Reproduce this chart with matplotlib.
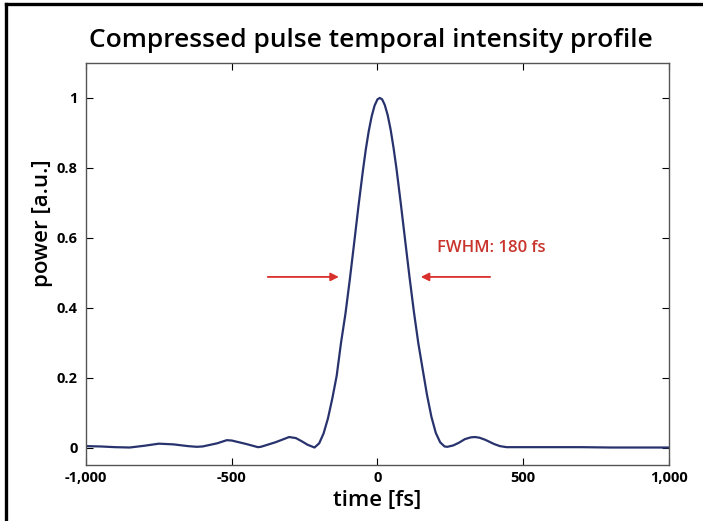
import matplotlib.pyplot as plt
from matplotlib.lines import Line2D

# pulse profile
time_fs = [-1000, -950, -900, -850, -800, -750, -700, -650, -620, -600,
           -550, -517, -500, -450, -410, -400, -350, -303, -280, -260,
           -240, -216, -200, -185, -170, -155, -140, -125, -110, -95,
           -80, -65, -50, -40, -30, -20, -10, 0, 8, 16,
           25, 35, 45, 55, 65, 80, 95, 110, 125, 140,
           155, 170, 185, 200, 215, 230, 240, 260, 280, 300,
           320, 335, 350, 370, 400, 420, 443, 500, 600, 700,
           800, 900, 1000]
power = [0.004, 0.003, 0.001, 0.000, 0.005, 0.011, 0.009, 0.004, 0.002, 0.003,
         0.012, 0.021, 0.020, 0.010, 0.001, 0.002, 0.015, 0.030, 0.027, 0.018,
         0.008, 0.000, 0.012, 0.040, 0.083, 0.140, 0.205, 0.300, 0.382, 0.480,
         0.585, 0.692, 0.792, 0.853, 0.905, 0.947, 0.978, 0.996, 1.000, 0.996,
         0.980, 0.951, 0.910, 0.858, 0.799, 0.698, 0.592, 0.487, 0.388, 0.299,
         0.224, 0.150, 0.088, 0.042, 0.015, 0.003, 0.002, 0.006, 0.014, 0.024,
         0.029, 0.030, 0.028, 0.022, 0.010, 0.004, 0.001, 0.001, 0.001, 0.001,
         0.000, 0.000, 0.000]

x_ticks = [-1000, -500, 0, 500, 1000]
x_ticklabels = ['-1,000', '-500', '0', '500', '1,000']
y_ticks = [0, 0.2, 0.4, 0.6, 0.8, 1]
y_ticklabels = ['0', '0.2', '0.4', '0.6', '0.8', '1']

plt.rcParams['font.family'] = ['Open Sans', 'DejaVu Sans']

fig = plt.figure(figsize=(7.03, 5.21), dpi=100)
ax = fig.add_axes([0.1223, 0.1075, 0.8293, 0.7716])

ax.plot(time_fs, power, color='#28336e', lw=1.6)

# FWHM arrows and label
red = '#d8302c'
ax.annotate('', xy=(-123, 0.488), xytext=(-386, 0.488),
            arrowprops=dict(arrowstyle='-|>', color=red, lw=1.3, mutation_scale=12))
ax.annotate('', xy=(139, 0.488), xytext=(396, 0.488),
            arrowprops=dict(arrowstyle='-|>', color=red, lw=1.3, mutation_scale=12))
ax.text(204, 0.571, 'FWHM: 180 fs', color='#c8342c', fontsize=12,
        fontweight='semibold', va='center', ha='left')

ax.set_xlim(-1000, 1000)
ax.set_ylim(-0.05, 1.1)
ax.set_xticks(x_ticks)
ax.set_xticklabels(x_ticklabels, fontweight='bold', fontsize=10.5)
ax.set_yticks(y_ticks)
ax.set_yticklabels(y_ticklabels, fontweight='bold', fontsize=10.5)
ax.tick_params(direction='in', length=5, top=True, right=True, width=0.8, pad=4)
ax.tick_params(axis='y', pad=6)
for s in ax.spines.values():
    s.set_color('#555555')
    s.set_linewidth(1.0)

fig.text(0.528, 0.923, 'Compressed pulse temporal intensity profile',
         fontsize=19, fontweight='semibold', ha='center', va='center')
fig.text(0.537, 0.040, 'time [fs]', fontsize=16, fontweight='semibold',
         ha='center', va='center')
fig.text(0.060, 0.572, 'power [a.u.]', fontsize=16, fontweight='semibold',
         ha='center', va='center', rotation=90)

# black frame on left and top edge
fig.add_artist(Line2D([0.0085, 0.0085], [0, 0.9923], color='black', lw=2.4))
fig.add_artist(Line2D([0.0085, 1.0], [0.9923, 0.9923], color='black', lw=2.4))

fig.savefig('out.png', dpi=100)
